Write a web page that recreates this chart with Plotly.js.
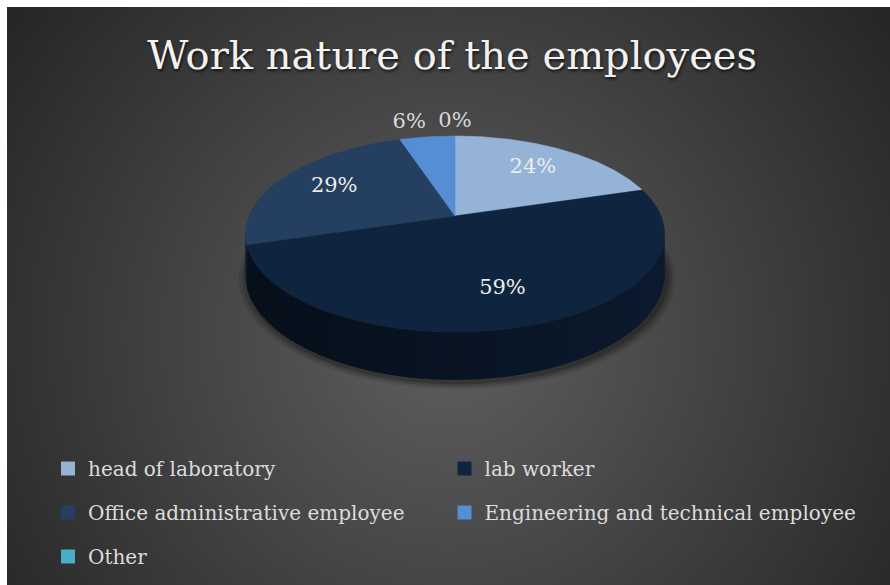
<!DOCTYPE html>
<html><head><meta charset="utf-8">
<script src="https://cdn.plot.ly/plotly-3.0.1.min.js"></script>
<style>
html,body{margin:0;padding:0;background:#ffffff;}
#wrap{position:relative;width:890px;height:585px;overflow:hidden;}
#bg{position:absolute;left:7px;top:7px;width:883px;height:578px;
  background:radial-gradient(circle farthest-corner at 50% 57%, #5e5e5e 0%, #4b4b4b 35%, #252525 100%);}
#chart{position:absolute;left:0;top:0;width:890px;height:585px;}
</style></head><body>
<div id="wrap"><div id="bg"></div><div id="chart"></div></div>
<script>
// ---- data ----
const categories = ['head of laboratory', 'lab worker', 'Office administrative employee', 'Engineering and technical employee', 'Other'];
const values = [24, 59, 29, 6, 0];
const colors = ['#95B3D7', '#0F243E', '#243F60', '#558ED5', '#4BACC6'];
const labelText = values.map(v => v + '%');
const chartTitle = 'Work nature of the employees';

// ---- geometry of the tilted (perspective) pie, in pixel units of the axes ----
const G = {cx: 455, cy: 216, a: 206, b: 94.7, k: 0.184, depth: 39};
function proj(thetaDeg, rho, drop) {
  const t = thetaDeg * Math.PI / 180;
  const s = rho * Math.sin(t), c = rho * Math.cos(t);
  const d = 1 + G.k * c;
  return [G.cx + G.a * s / d, G.cy - G.b * c / d + (drop ? G.depth / d : 0)];
}
function shade(hex, f) {
  const n = parseInt(hex.slice(1), 16);
  const r = Math.round(((n >> 16) & 255) * f), g = Math.round(((n >> 8) & 255) * f), b = Math.round((n & 255) * f);
  return 'rgb(' + r + ',' + g + ',' + b + ')';
}

const total = values.reduce((p, q) => p + q, 0);
const starts = [], ends = [];
let acc = 0;
values.forEach(v => { starts.push(acc / total * 360); acc += v; ends.push(acc / total * 360); });

const traces = [];

// soft drop shadow under the pie
[[1.04, 0.10], [1.025, 0.14], [1.01, 0.2]].forEach(([sc, op]) => {
  const xs = [], ys = [];
  for (let th = 0; th <= 360; th += 2) {
    const p = proj(th, sc, true);
    xs.push(p[0] + 2); ys.push(p[1] + 3);
  }
  traces.push({type: 'scatter', mode: 'lines', x: xs, y: ys, fill: 'toself',
    fillcolor: 'rgba(0,0,0,' + op + ')', line: {width: 0}, hoverinfo: 'skip', showlegend: false});
});

// visible outer wall (front part), shaded lighter on the left and darker on the right
const visA = Math.acos(-G.k) * 180 / Math.PI;
const visB = 360 - visA;
values.forEach((v, i) => {
  if (v <= 0) return;
  const lo = Math.max(starts[i], visA - 2), hi = Math.min(ends[i], visB + 2);
  if (hi <= lo) return;
  const step = 1.5;
  for (let th = lo; th < hi; th += step) {
    const t2 = Math.min(th + step + 0.6, hi);
    const xs = [], ys = [];
    for (let t = th; t <= t2 + 1e-9; t += 0.3) { const p = proj(t, 1, false); xs.push(p[0]); ys.push(p[1]); }
    for (let t = t2; t >= th - 1e-9; t -= 0.3) { const p = proj(t, 1, true); xs.push(p[0]); ys.push(p[1]); }
    const sMid = Math.sin(((th + t2) / 2) * Math.PI / 180);
    const col = shade(colors[i], 0.57 + 0.17 * sMid);
    traces.push({type: 'scatter', mode: 'lines', x: xs, y: ys, fill: 'toself', fillcolor: col,
      line: {width: 0}, hoverinfo: 'skip', showlegend: false});
  }
});

// top faces
values.forEach((v, i) => {
  if (v <= 0) return;
  const xs = [G.cx], ys = [G.cy];
  for (let t = starts[i]; t <= ends[i] + 1e-9; t += 0.5) { const p = proj(t, 1, false); xs.push(p[0]); ys.push(p[1]); }
  const pe = proj(ends[i], 1, false); xs.push(pe[0]); ys.push(pe[1]);
  xs.push(G.cx); ys.push(G.cy);
  traces.push({type: 'scatter', mode: 'lines', x: xs, y: ys, fill: 'toself', fillcolor: colors[i],
    line: {width: 0.6, color: colors[i]}, hoverinfo: 'skip', showlegend: false});
});

// data labels
values.forEach((v, i) => {
  const frac = v / total;
  const mid = (starts[i] + ends[i]) / 2;
  const inside = frac >= 0.1;
  const p = proj(mid, inside ? 0.7 : 1.06, false);
  const s = Math.sin(mid * Math.PI / 180);
  let pos = 'middle center';
  if (!inside) pos = Math.abs(s) < 0.05 ? 'top center' : (s < 0 ? 'top left' : 'top right');
  traces.push({type: 'scatter', mode: 'text', x: [p[0]], y: [p[1]], text: [labelText[i]],
    textposition: pos, textfont: {family: 'DejaVu Serif', size: 21, color: inside ? '#ececec' : '#d9d9d9'},
    hoverinfo: 'skip', showlegend: false});
});

// legend entries (one legend per cell of the 2-column legend grid)
const legendIds = ['legend', 'legend2', 'legend3', 'legend4', 'legend5'];
categories.forEach((name, i) => {
  traces.push({type: 'scatter', mode: 'markers', x: [null], y: [null], name: name,
    marker: {symbol: 'square', size: 14, color: colors[i]}, legend: legendIds[i], showlegend: true, hoverinfo: 'skip'});
});

const W = 890, H = 585;
const legendCells = [[48, 468.5], [444.5, 468.5], [48, 512.5], [444.5, 512.5], [48, 556.5]];
const layout = {
  width: W, height: H,
  margin: {l: 0, r: 0, t: 0, b: 0},
  paper_bgcolor: 'rgba(0,0,0,0)', plot_bgcolor: 'rgba(0,0,0,0)',
  showlegend: true,
  title: {text: chartTitle, x: 0.508, xanchor: 'center', y: 1 - 55 / H, yanchor: 'middle',
    font: {family: 'DejaVu Serif', size: 40, color: '#f2f2f2', shadow: '1px 2px 3px rgba(0,0,0,0.7)'}},
  xaxis: {range: [0, W], visible: false, fixedrange: true},
  yaxis: {range: [H, 0], visible: false, fixedrange: true}
};
legendIds.forEach((id, i) => {
  layout[id] = {x: legendCells[i][0] / W, y: 1 - legendCells[i][1] / H, xanchor: 'left', yanchor: 'middle',
    bgcolor: 'rgba(0,0,0,0)', borderwidth: 0,
    font: {family: 'DejaVu Serif', size: 20, color: '#dcdcdc'}};
});

Plotly.newPlot('chart', traces, layout, {displayModeBar: false, staticPlot: true});
</script>
</body></html>
